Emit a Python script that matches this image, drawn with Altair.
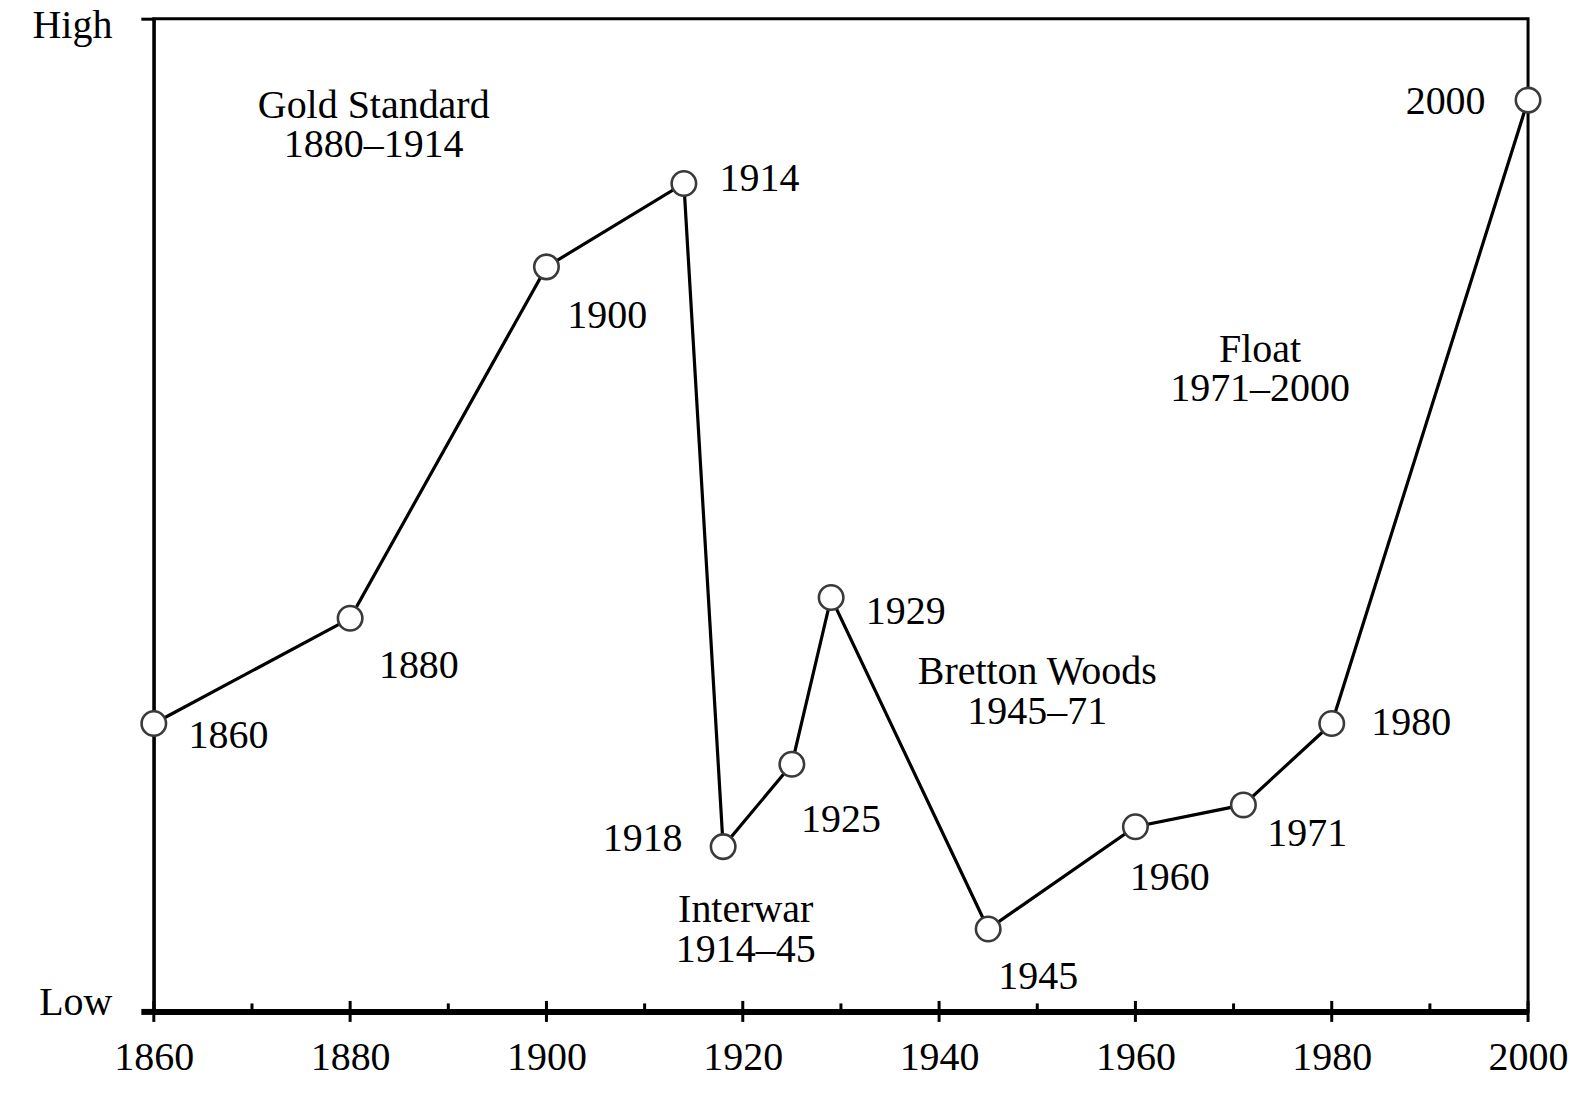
import altair as alt
import pandas as pd

# ---- data ----
years = [1860, 1880, 1900, 1914, 1918, 1925, 1929, 1945, 1960, 1971, 1980, 2000]
mobility = [29.0, 39.6, 75.0, 83.4, 16.6, 24.9, 41.7, 8.3, 18.6, 20.8, 29.0, 91.8]
label_x = [1867.6, 1887.0, 1906.2, 1921.7, 1909.8, 1930.0, 1936.6, 1950.1, 1963.5, 1977.5, 1988.1, 1991.6]
label_y = [27.7, 34.8, 70.0, 83.8, 17.4, 19.3, 40.2, 3.5, 13.4, 17.9, 29.1, 91.6]

regime_lines = ["Gold Standard", "1880–1914", "Interwar", "1914–45",
                "Bretton Woods", "1945–71", "Float", "1971–2000"]
regime_x = [1882.4, 1882.4, 1920.3, 1920.3, 1950.0, 1950.0, 1972.7, 1972.7]
regime_y = [91.2, 87.3, 10.2, 6.2, 34.2, 30.2, 66.6, 62.7]

axis_years = [1860, 1880, 1900, 1920, 1940, 1960, 1980, 2000]
minor_years = [1870, 1890, 1910, 1930, 1950, 1970, 1990]
y_ends = [0, 100]

FONT = "Liberation Serif"

df = pd.DataFrame({"year": years, "value": mobility, "lx": label_x, "ly": label_y,
                   "label": [str(y) for y in years]})
reg = pd.DataFrame({"text": regime_lines, "x": regime_x, "y": regime_y})
major_df = pd.DataFrame({"year": axis_years, "base": [0] * len(axis_years)})
minor_df = pd.DataFrame({"year": minor_years, "base": [0] * len(minor_years)})

x_scale = alt.Scale(domain=[1860, 2000], nice=False, zero=False)
y_scale = alt.Scale(domain=[0, 100], nice=False, zero=False)

x_axis = alt.Axis(values=axis_years, format="d", title=None, ticks=False, tickSize=0,
                  labelFont=FONT, labelFontSize=40, labelColor="black", labelPadding=26,
                  labelFlush=False, domainColor="black", domainWidth=6, grid=False)
y_axis = alt.Axis(values=y_ends, labelExpr="datum.value == 100 ? 'High' : 'Low'", title=None,
                  tickSize=13, tickColor="black",
                  tickWidth={"condition": {"test": "datum.value == 0", "value": 6}, "value": 3},
                  domainColor="black", domainWidth=3, labelFont=FONT, labelFontSize=40,
                  labelColor="black", labelPadding=29, labelFlush=False, grid=False,
                  labelOffset={"condition": {"test": "datum.value == 100", "value": 7}, "value": -9})


def X(field):
    return alt.X(field, type="quantitative", scale=x_scale, axis=x_axis)


def Y(field):
    return alt.Y(field, type="quantitative", scale=y_scale, axis=y_axis)


line = alt.Chart(df).mark_line(color="black", strokeWidth=3.2).encode(x=X("year"), y=Y("value"))
points = alt.Chart(df).mark_circle(fill="white", stroke="#3a3a3a", strokeWidth=2.6,
                                   size=600, opacity=1, fillOpacity=1).encode(x=X("year"), y=Y("value"))
labels = alt.Chart(df).mark_text(font=FONT, fontSize=40, color="black", align="center",
                                 baseline="middle").encode(x=X("lx"), y=Y("ly"), text="label:N")
regimes = alt.Chart(reg).mark_text(font=FONT, fontSize=40, color="black", align="center",
                                   baseline="middle").encode(x=X("x"), y=Y("y"), text="text:N")
major = alt.Chart(major_df).mark_tick(orient="vertical", size=21, thickness=3, color="black",
                                      opacity=1).encode(x=X("year"), y=Y("base"))
minor = alt.Chart(minor_df).mark_tick(orient="vertical", size=8, thickness=3, color="black",
                                      opacity=1, yOffset=-4).encode(x=X("year"), y=Y("base"))

chart = alt.layer(line, points, labels, regimes, major, minor).properties(
    width=1376, height=994,
    padding={"left": 146, "top": 10, "right": 40, "bottom": 90},
    autosize=alt.AutoSizeParams(type="none"),
    background="white",
).configure_view(stroke="black", strokeWidth=3)

chart.save("out.html", embed_options={"renderer": "svg", "actions": False})
